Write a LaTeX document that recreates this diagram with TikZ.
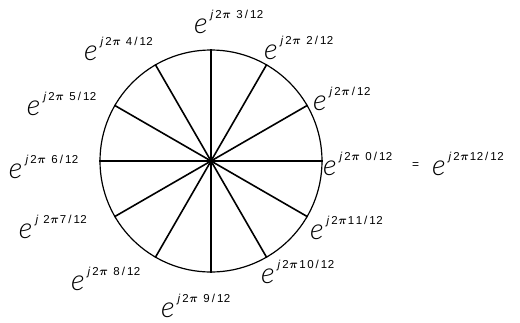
\documentclass[tikz,border=0pt]{standalone}
\usepackage{fontspec}
\setmainfont{Liberation Sans}
\newfontfamily\efont{Lato Light Italic}
\newcommand{\expe}{{\efont\fontsize{29}{29}\selectfont e}}
% #1 gap after j, #2 gap after pi, #3 number text
\newcommand{\explab}[3]{\expe\hspace{3pt}\raisebox{15pt}{\fontsize{11.5}{11.5}\selectfont
  \textit{j}\hspace{#1}2\hspace{0.5pt}{\boldmath$\pi$}\hspace{#2}#3\hspace{2pt}/\hspace{2pt}1\hspace{0.5pt}2}}
\begin{document}
\begin{tikzpicture}[x=1pt,y=-1pt,
  lab/.style={anchor=base west,inner sep=0pt,outer sep=0pt},
  spoke/.style={line width=1.6pt}]
\useasboundingbox (0,0) rectangle (520,322);
\node[circle,draw,line width=1.2pt,minimum size=222pt,inner sep=0pt] (c) at (211,161) {};
\foreach \a in {0,30,60,90,120,150}{
  \pgfmathtruncatemacro{\b}{\a+180}
  \draw[spoke] (c.\a) -- (c.\b);
}
\node[lab] (l3) at (194,33) {\explab{2pt}{5.5pt}{3}};
\node[lab] (l2) at (264,59) {\explab{2pt}{5.5pt}{2}};
\node[lab] (l1) at (313,110) {\explab{2pt}{0pt}{}};
\node[lab] (l0) at (323,175) {\explab{2pt}{5.5pt}{0}};
\node[lab] (eq) at (412,168) {\fontsize{12}{12}\selectfont =};
\node[lab] (l12) at (432,175) {\explab{2pt}{1pt}{1\hspace{0.5pt}2}};
\node[lab] (l11) at (310,239) {\explab{2pt}{1pt}{1\hspace{1.5pt}1}};
\node[lab] (l10) at (261,283) {\explab{2pt}{1.5pt}{1\hspace{1.5pt}0}};
\node[lab] (l9) at (161,317) {\explab{2pt}{5.5pt}{9}};
\node[lab] (l8) at (71,290) {\explab{2pt}{5.5pt}{8}};
\node[lab] (l7) at (19,238) {\explab{5pt}{1pt}{7}};
\node[lab] (l6) at (9,178) {\explab{2pt}{5.5pt}{6}};
\node[lab] (l5) at (27,115) {\explab{2pt}{5.5pt}{5}};
\node[lab] (l4) at (84,60) {\explab{2pt}{5pt}{4}};
\end{tikzpicture}
\end{document}
